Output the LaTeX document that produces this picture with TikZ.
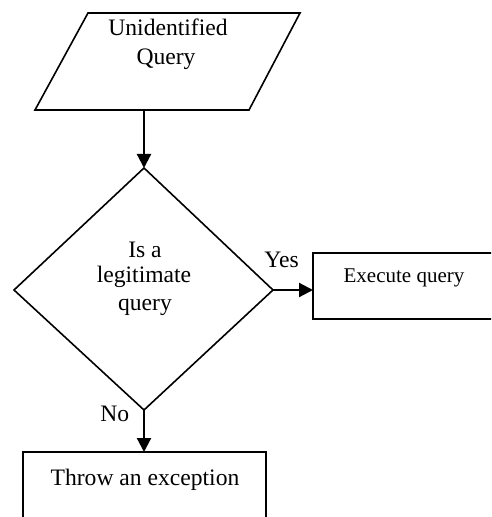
\documentclass[tikz,border=0pt]{standalone}
\usepackage{fontspec}
\setmainfont{Liberation Serif}
\usetikzlibrary{arrows.meta}
\begin{document}
\begin{tikzpicture}[x=0.5pt, y=-0.5pt,
  shapeline/.style={draw=black, line width=0.8pt, line join=miter},
  flow/.style={draw=black, line width=1.1pt, -{Triangle[length=7pt, width=7pt]}},
  txt/.style={anchor=base, inner sep=0pt, font=\fontsize{11.8}{14}\selectfont},
  smalltxt/.style={anchor=base, inner sep=0pt, font=\fontsize{10.5}{12.5}\selectfont}]
  \useasboundingbox (0,0) rectangle (491,517);
  \clip (0,0) rectangle (491,517);

  % input parallelogram
  \coordinate (inTL) at (88,13);
  \coordinate (inTR) at (300,13);
  \coordinate (inBR) at (249,110);
  \coordinate (inBL) at (35,110);
  \coordinate (inOut) at (144,110);
  \draw[shapeline] (inTL) -- (inTR) -- (inBR) -- (inBL) -- cycle;
  \node[txt] (inL1) at (168,36) {Unidentified};
  \node[txt] (inL2) at (166,65) {Query};

  % decision diamond
  \coordinate (dTop) at (144,168);
  \coordinate (dRight) at (273,290);
  \coordinate (dBot) at (144,410);
  \coordinate (dLeft) at (14,290);
  \draw[shapeline] (dTop) -- (dRight) -- (dBot) -- (dLeft) -- cycle;
  \node[txt] (dL1) at (145,257) {Is a};
  \node[txt] (dL2) at (144,283) {legitimate};
  \node[txt] (dL3) at (145,310) {query};

  % execute box (runs past the right edge)
  \draw[shapeline] (520,253) -- (313,253) -- (313,319) -- (520,319);
  \coordinate (exIn) at (313,290);
  \node[smalltxt] (exText) at (404,283) {Execute query};

  % exception box (runs past the bottom edge)
  \draw[shapeline] (23,540) -- (23,452) -- (266,452) -- (266,540);
  \coordinate (thIn) at (144,452);
  \node[txt] (thText) at (145,485) {Throw an exception};

  % connectors
  \draw[flow] (inOut) -- (dTop);
  \draw[flow] (dRight) -- (exIn);
  \draw[flow] (dBot) -- (thIn);

  % branch labels
  \node[txt, anchor=base west] (yes) at (264,268) {Yes};
  \node[txt, anchor=base west] (no) at (100,421) {No};
\end{tikzpicture}
\end{document}
